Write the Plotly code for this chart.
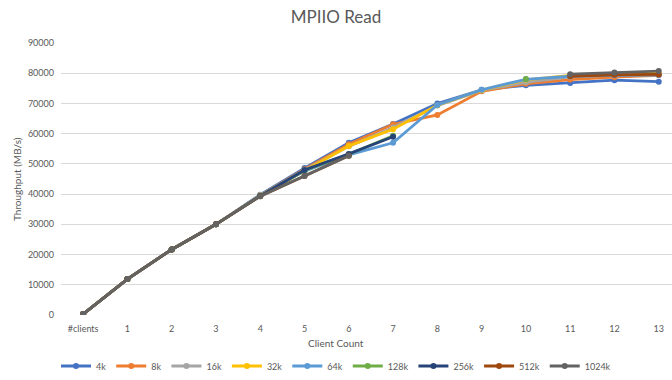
import plotly.graph_objects as go

# Categories on the x axis (the first row header ended up as a category)
categories = ["#clients", "1", "2", "3", "4", "5", "6", "7", "8", "9", "10", "11", "12", "13"]

# Read throughput (MB/s) per transfer size; None = not measured
tp_4k = [300, 11900, 21700, 30000, 39800, 48600, 57000, 63200, 70000, 74500, 76000, 76800, 77700, 77200]
tp_8k = [300, 11900, 21700, 30000, 39600, 48200, 56500, 63100, 66200, 74000, 76500, 77900, 78700, 79300]
tp_16k = [300, 11900, 21700, 30000, 39600, 48000, 55800, 62000, 69300, 74300, 77000, 78800, 79400, 79700]
tp_32k = [300, 11900, 21700, 30000, 39500, 47800, 55900, 61500, 69400, 74400, 77800, 79300, 79800, 80000]
tp_64k = [300, 11900, 21700, 30000, 39500, 47600, 53000, 57000, 69500, 74500, 78000, 79000, 79300, 79400]
tp_128k = [300, 11900, 21700, 30000, 39400, 47800, 53200, 59300, None, None, 78100, None, None, None]
tp_256k = [300, 11900, 21700, 30000, 39400, 48000, 53300, 59000, None, None, None, None, None, None]
tp_512k = [300, 11900, 21700, 30000, 39300, 46000, 52700, None, None, None, None, 79000, 79500, 79600]
tp_1024k = [300, 11900, 21700, 30000, 39300, 46000, 52700, None, None, None, None, 79700, 80200, 80700]

series_names = ["4k", "8k", "16k", "32k", "64k", "128k", "256k", "512k", "1024k"]
series_values = [tp_4k, tp_8k, tp_16k, tp_32k, tp_64k, tp_128k, tp_256k, tp_512k, tp_1024k]
series_colors = ["#4472C4", "#ED7D31", "#A5A5A5", "#FFC000", "#5B9BD5",
                 "#70AD47", "#264478", "#9E480E", "#636363"]

y_ticks = [0, 10000, 20000, 30000, 40000, 50000, 60000, 70000, 80000, 90000]

FONT = "Lato, 'Open Sans', sans-serif"
TEXT = "#595959"

# plot area geometry in pixels (used to place the axis titles)
L, T, W, H = 61, 43, 611, 272

fig = go.Figure()
for name, vals, col in zip(series_names, series_values, series_colors):
    fig.add_trace(go.Scatter(
        x=list(range(len(categories))),
        y=vals,
        name=name,
        mode="lines+markers",
        line=dict(color=col, width=2.8),
        marker=dict(color=col, size=6, symbol="circle"),
        connectgaps=False,
    ))

fig.update_layout(
    width=672,
    height=380,
    margin=dict(l=L, r=672 - L - W, t=T, b=380 - T - H),
    paper_bgcolor="white",
    plot_bgcolor="white",
    font=dict(family=FONT, color=TEXT, size=9),
    title=dict(
        text="MPIIO Read",
        x=0.5, xanchor="center",
        xref="container",
        y=1 - 17 / 380, yref="container", yanchor="middle",
        font=dict(size=17, color=TEXT, family=FONT),
    ),
    showlegend=True,
    legend=dict(
        orientation="h",
        xref="container", x=0.5, xanchor="center",
        yref="container", y=1 - 366 / 380, yanchor="middle",
        font=dict(size=9, color=TEXT),
        itemwidth=30,
        tracegroupgap=0,
    ),
    xaxis=dict(
        tickmode="array",
        tickvals=list(range(len(categories))),
        ticktext=categories,
        range=[-0.5, 13.3],
        showgrid=False,
        zeroline=False,
        showline=False,
        ticks="",
        ticklabelstandoff=7,
        tickfont=dict(size=9, color=TEXT),
        fixedrange=True,
    ),
    yaxis=dict(
        range=[0, 90000],
        tickmode="array",
        tickvals=y_ticks,
        ticktext=[str(v) for v in y_ticks],
        showgrid=True,
        gridcolor="#D9D9D9",
        gridwidth=1,
        zeroline=False,
        showline=False,
        ticks="",
        ticklabelstandoff=6,
        tickfont=dict(size=9, color=TEXT),
        fixedrange=True,
    ),
    annotations=[
        dict(text="Throughput (MB/s)", xref="paper", yref="paper",
             x=(17 - L) / W, y=0.5, xanchor="center", yanchor="middle",
             textangle=-90, showarrow=False,
             font=dict(size=10, color=TEXT, family=FONT)),
        dict(text="Client Count", xref="paper", yref="paper",
             x=(336 - L) / W, y=(T + H - 343) / H, xanchor="center", yanchor="middle",
             showarrow=False,
             font=dict(size=10, color=TEXT, family=FONT)),
    ],
)

fig.write_html("out.html")
